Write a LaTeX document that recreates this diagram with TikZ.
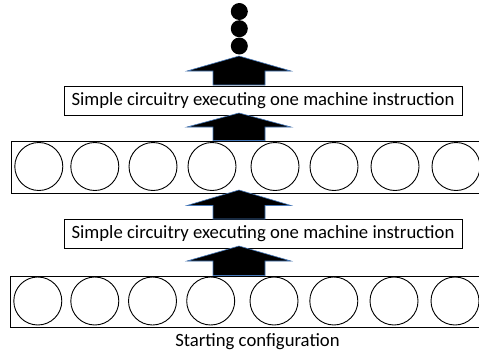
\documentclass[tikz,border=0pt]{standalone}
\usepackage{fontspec}
\setmainfont{Carlito}
\begin{document}
\begin{tikzpicture}[x=1pt,y=-1pt,
  rowbox/.style={draw=black,line width=1pt},
  cell/.style={draw=black,line width=0.9pt,fill=white},
  labelbox/.style={draw=black,line width=0.9pt,fill=white,minimum width=398pt,minimum height=29pt,inner sep=0pt,font=\fontsize{18.7}{21}\selectfont},
  bigarrow/.style={fill=black,draw={rgb,255:red,70;green,120;blue,185},line width=0.6pt,line join=miter},
  dot/.style={circle,fill=black,minimum size=17pt,inner sep=0pt}]
\useasboundingbox (0,0) rectangle (479,356);
% text boxes
\node[labelbox] (L1) at (263,100.5) {Simple circuitry executing one machine instruction};
\node[labelbox] (L2) at (263,233.5) {Simple circuitry executing one machine instruction};
% rows of registers
\draw[rowbox] (11,141) rectangle (482,193);
\foreach \cx [count=\i] in {38.8,94.8,153,212,275,334,395,456}
  \node[cell,circle,minimum size=48pt,inner sep=0pt] (u\i) at (\cx,166.5) {};
\draw[rowbox] (10,276) rectangle (482,327);
\foreach \cx [count=\i] in {37.8,94.8,152.5,210.7,274,333.8,394,455}
  \node[cell,circle,minimum size=48pt,inner sep=0pt] (b\i) at (\cx,301) {};
% caption
\node[font=\fontsize{18.7}{21}\selectfont] (cap) at (257.5,341.5) {Starting configuration};
% arrows: tip, head base y, shaft bottom
\foreach \t/\h/\s in {56/71/85, 113/127/140.5, 190/205.5/219, 246/261/275.5}
  \fill[bigarrow] (239,\t) -- (291,\h) -- (265,\h) -- (265,\s) -- (213,\s) -- (213,\h) -- (187,\h) -- cycle;
% dots
\node[dot] (d3) at (239.3,46) {};
\node[dot] (d2) at (239.3,28.7) {};
\node[dot] (d1) at (239.3,11.5) {};
\end{tikzpicture}
\end{document}
